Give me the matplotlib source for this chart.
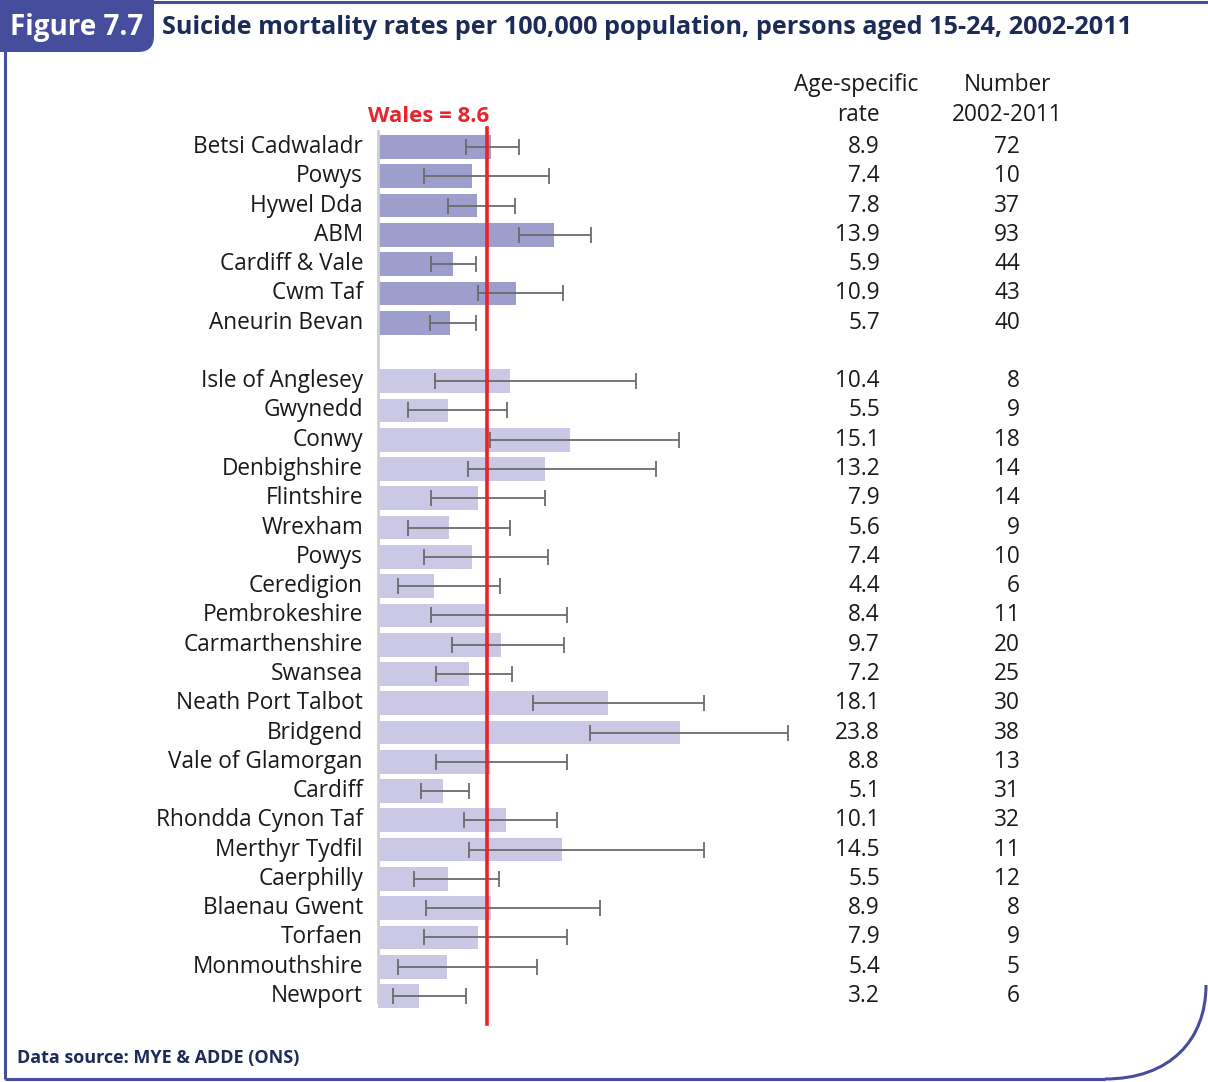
import matplotlib
matplotlib.use("Agg")
import matplotlib.pyplot as plt
from matplotlib.patches import PathPatch
from matplotlib.path import Path
from matplotlib.transforms import blended_transform_factory

plt.rcParams['font.family'] = ['Open Sans', 'DejaVu Sans']

# Health boards followed by local authorities (None = spacer row)
areas = ["Betsi Cadwaladr", "Powys", "Hywel Dda", "ABM", "Cardiff & Vale",
         "Cwm Taf", "Aneurin Bevan", None,
         "Isle of Anglesey", "Gwynedd", "Conwy", "Denbighshire", "Flintshire",
         "Wrexham", "Powys", "Ceredigion", "Pembrokeshire", "Carmarthenshire",
         "Swansea", "Neath Port Talbot", "Bridgend", "Vale of Glamorgan",
         "Cardiff", "Rhondda Cynon Taf", "Merthyr Tydfil", "Caerphilly",
         "Blaenau Gwent", "Torfaen", "Monmouthshire", "Newport"]
rates = [8.9, 7.4, 7.8, 13.9, 5.9, 10.9, 5.7, None,
         10.4, 5.5, 15.1, 13.2, 7.9, 5.6, 7.4, 4.4, 8.4, 9.7, 7.2, 18.1,
         23.8, 8.8, 5.1, 10.1, 14.5, 5.5, 8.9, 7.9, 5.4, 3.2]
ci_low = [6.9, 3.6, 5.5, 11.1, 4.2, 7.9, 4.1, None,
          4.5, 2.4, 8.8, 7.1, 4.2, 2.4, 3.6, 1.6, 4.2, 5.8, 4.6, 12.2,
          16.7, 4.6, 3.4, 6.8, 7.2, 2.8, 3.8, 3.6, 1.6, 1.2]
ci_high = [11.1, 13.5, 10.8, 16.8, 7.7, 14.6, 7.7, None,
           20.3, 10.2, 23.7, 21.9, 13.2, 10.4, 13.4, 9.6, 14.9, 14.7, 10.6, 25.7,
           32.3, 14.9, 7.2, 14.1, 25.7, 9.5, 17.5, 14.9, 12.5, 6.9]
counts = [72, 10, 37, 93, 44, 43, 40, None,
          8, 9, 18, 14, 14, 9, 10, 6, 11, 20, 25, 30,
          38, 13, 31, 32, 11, 12, 8, 9, 5, 6]
wales_rate = 8.6
n_boards = 7

W, H = 1208, 1082
fig = plt.figure(figsize=(W / 100, H / 100), dpi=100)

NAVY = "#1c2b58"
FRAME = "#464d9c"
BOARD = "#9e9ecd"
AUTH = "#cac8e5"
RED = "#e8232b"
TXT = "#1a1a1a"
FS = 16.3

# Chart axes in pixel geometry
ax_l, ax_r = 378, 822
n_rows = len(areas)
row_top, row_bot = 147, 996
step = (row_bot - row_top) / (n_rows - 1)
ax_t, ax_b = row_top - step / 2, row_bot + step / 2
ax = fig.add_axes([ax_l / W, 1 - ax_b / H, (ax_r - ax_l) / W, (ax_b - ax_t) / H])
ax.set_xlim(0, 35)
ax.set_ylim(n_rows - 0.5, -0.5)
ax.axis("off")

for i, (r, lo, hi) in enumerate(zip(rates, ci_low, ci_high)):
    if r is None:
        continue
    color = BOARD if i < n_boards else AUTH
    ax.barh(i, r, height=0.81, color=color, zorder=1)
    ax.errorbar(r, i, xerr=[[r - lo], [hi - r]], fmt="none", ecolor="#6b6b6b",
                elinewidth=1.3, capsize=5.5, capthick=1.3, zorder=3)

# Baseline
ax.plot([0, 0], [-0.55, n_rows - 0.8], color="#cfcfcf", lw=2, clip_on=False, zorder=2)
# Wales average line
ax.plot([wales_rate, wales_rate], [-0.65, n_rows - 0.05], color=RED, lw=2.6,
        clip_on=False, zorder=4)

tr = blended_transform_factory(fig.transFigure, ax.transData)
ax.text(489 / W, -1.05, f"Wales = {wales_rate}", transform=tr, color=RED, fontsize=16,
        fontweight="bold", ha="right", va="center", clip_on=False)
for i, name in enumerate(areas):
    if name is None:
        continue
    ax.text(363 / W, i, name, transform=tr, ha="right", va="center",
            fontsize=FS, color=TXT)
    ax.text(880 / W, i, f"{rates[i]}", transform=tr, ha="right", va="center",
            fontsize=FS, color=TXT)
    ax.text(1020 / W, i, f"{counts[i]}", transform=tr, ha="right", va="center",
            fontsize=FS, color=TXT)

fig.text(856 / W, 1 - 85 / H, "Age-specific", ha="center", va="center", fontsize=FS, color=TXT)
fig.text(858 / W, 1 - 115 / H, "rate", ha="center", va="center", fontsize=FS, color=TXT)
fig.text(1007 / W, 1 - 85 / H, "Number", ha="center", va="center", fontsize=FS, color=TXT)
fig.text(1007 / W, 1 - 115 / H, "2002-2011", ha="center", va="center", fontsize=FS, color=TXT)

# Frame and heading tab
ov = fig.add_axes([0, 0, 1, 1], zorder=-1)
ov.set_xlim(0, W)
ov.set_ylim(H, 0)
ov.axis("off")
ov.plot([0, W], [2, 2], color=FRAME, lw=2.2, solid_capstyle="butt")
ov.plot([5, 5], [50, 1079], color=FRAME, lw=2.2, solid_capstyle="butt")
ov.plot([5, 1105], [1079, 1079], color=FRAME, lw=2.2, solid_capstyle="butt")
corner = Path([(1105, 1079), (1170, 1079), (1206, 1040), (1206, 985)],
              [Path.MOVETO, Path.CURVE4, Path.CURVE4, Path.CURVE4])
ov.add_patch(PathPatch(corner, fill=False, edgecolor=FRAME, lw=2.2))
rad = 16
tab = Path([(0, 0), (154, 0), (154, 52 - rad), (154, 52), (154 - rad, 52), (0, 52), (0, 0)],
           [Path.MOVETO, Path.LINETO, Path.LINETO, Path.CURVE3, Path.CURVE3,
            Path.LINETO, Path.CLOSEPOLY])
ov.add_patch(PathPatch(tab, facecolor=FRAME, edgecolor="none"))

fig.text(10 / W, 1 - 27 / H, "Figure 7.7", color="white", fontsize=20, fontweight="bold",
         ha="left", va="center")
fig.text(162 / W, 1 - 27 / H,
         "Suicide mortality rates per 100,000 population, persons aged 15-24, 2002-2011",
         color=NAVY, fontsize=18.2, fontweight="bold", ha="left", va="center")
fig.text(17 / W, 1 - 1058 / H, "Data source: MYE & ADDE (ONS)", color=NAVY,
         fontsize=13, fontweight="bold", ha="left", va="center")

fig.savefig("out.png", dpi=100)
